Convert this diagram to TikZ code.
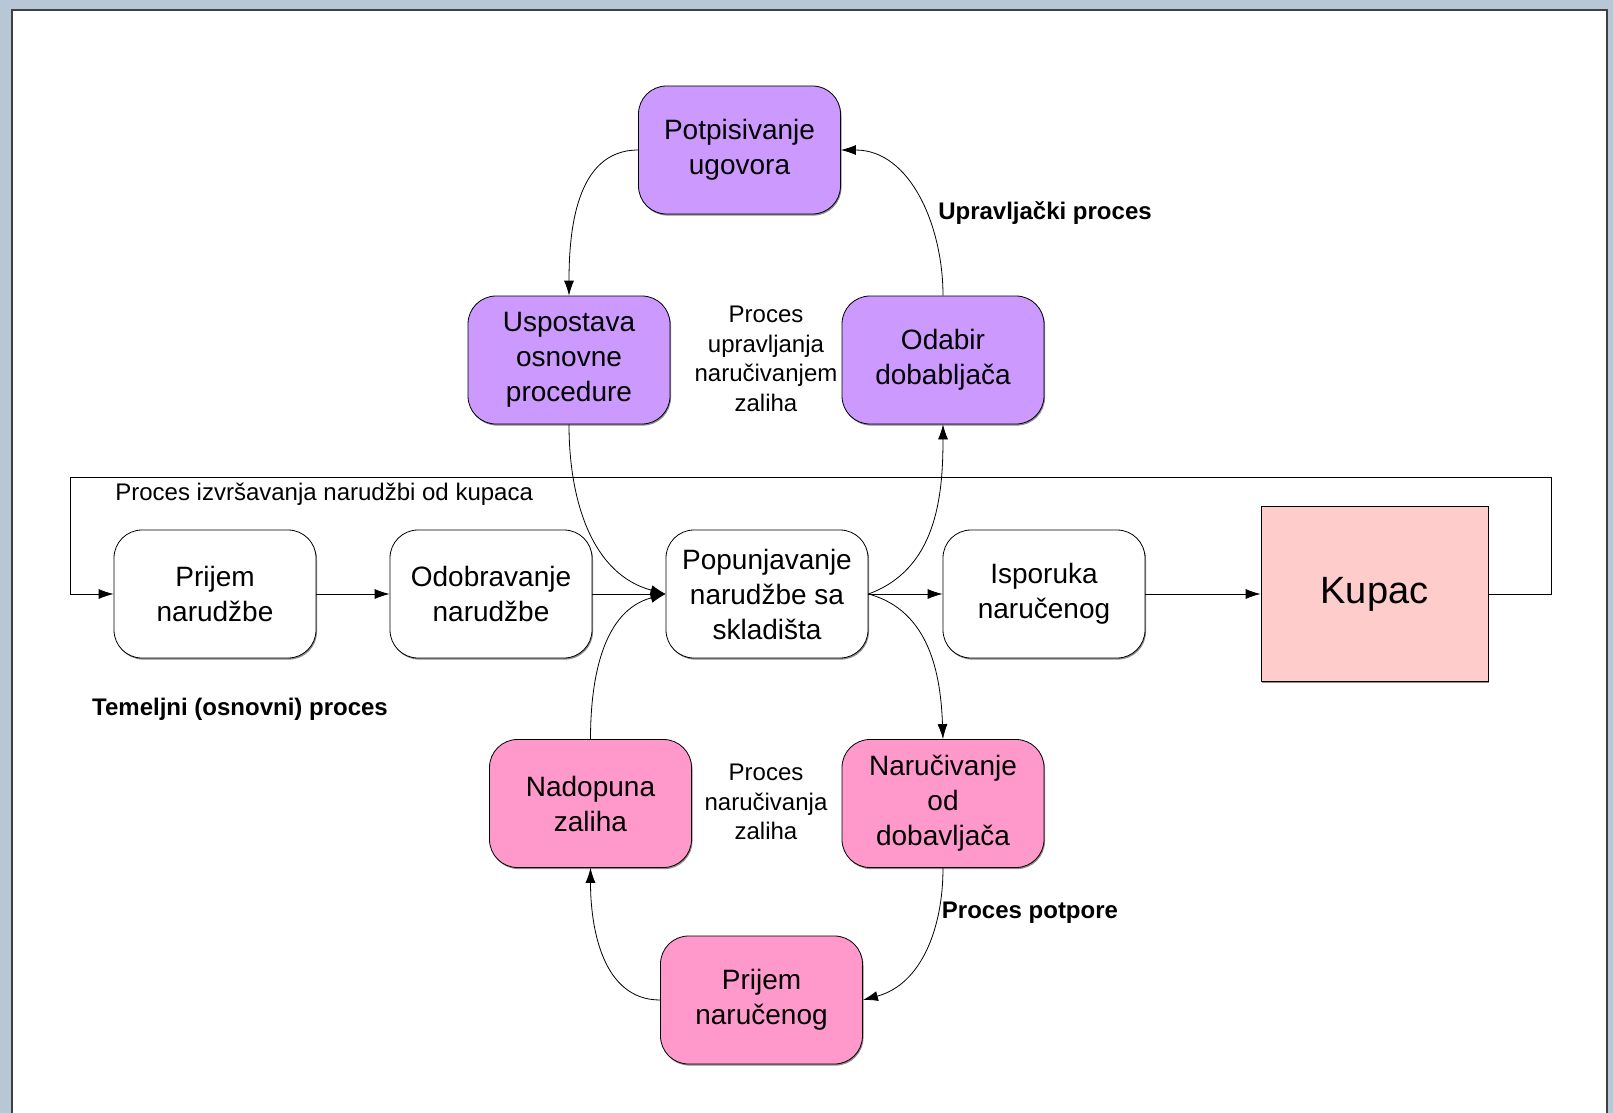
\documentclass[tikz,border=0pt]{standalone}
\usepackage{fontspec}
\setmainfont{Liberation Sans}
\usepackage{tikz}
\usetikzlibrary{arrows.meta,shadows}

\definecolor{ljubicasta}{RGB}{204,153,255}
\definecolor{ruzicasta}{RGB}{255,153,204}
\definecolor{kupacboja}{RGB}{255,204,204}
\definecolor{okvir}{RGB}{184,199,214}

\begin{document}
\begin{tikzpicture}[x=0.5pt,y=0.5pt]

        \useasboundingbox (0,0) rectangle (1613,-1113);
        \fill[okvir] (0,0) rectangle (1613,-1113);
        \filldraw[fill=white,draw=black!75,line width=0.8pt] (12,-10) rectangle (1607,-1125);

        \begin{scope}[every node/.style={draw, fill=white, rounded corners=14pt, align=center,
            minimum width=101pt, minimum height=64pt, font=\fontsize{14}{17.5}\selectfont,
            drop shadow={shadow xshift=0.5pt, shadow yshift=-0.8pt, fill=black!45, opacity=1}}]
          \node (1)  at (215,-594)    {Prijem\\narudžbe};
          \node (2)  at (491,-594)    {Odobravanje\\narudžbe};
          \node (3)  at (767,-594)    {Popunjavanje\\narudžbe sa\\skladišta};
          \node (4)  at (1044,-594)   {Isporuka\\naručenog};
          \node[sharp corners, fill=kupacboja, minimum width=113.5pt, minimum height=87.5pt,
                font=\fontsize{19}{23}\selectfont] (5) at (1374.5,-594) {Kupac};
          \node[fill=ljubicasta] (6)  at (739.5,-150) {Potpisivanje\\ugovora};
          \node[fill=ljubicasta] (7)  at (569,-360)   {Uspostava\\osnovne\\procedure};
          \node[fill=ljubicasta] (8)  at (943,-360)   {Odabir\\dobabljača};
          \node[fill=ruzicasta] (9)  at (590.5,-803.5) {Nadopuna\\zaliha};
          \node[fill=ruzicasta] (10) at (943,-803.5)   {Naručivanje\\od\\dobavljača};
          \node[fill=ruzicasta] (11) at (761.5,-1000)  {Prijem\\naručenog};
        \end{scope}

        \begin{scope}[every node/.style={inner sep=0pt, align=center, font=\fontsize{12}{14.75}\selectfont}]
          \node (t1) at (766,-359) {Proces\\upravljanja\\naručivanjem\\zaliha};
          \node (t2) at (766,-802) {Proces\\naručivanja\\zaliha};
          \node[anchor=west] (t3) at (115,-494) {Proces izvršavanja narudžbi od kupaca};
          \node[font=\fontsize{12}{14.75}\selectfont\bfseries] (t4) at (1045,-213) {Upravljački proces};
          \node[font=\fontsize{12}{14.75}\selectfont\bfseries] (t5) at (240,-709)  {Temeljni (osnovni) proces};
          \node[font=\fontsize{12}{14.75}\selectfont\bfseries] (t6) at (1030,-913) {Proces potpore};
        \end{scope}

        \coordinate (dR) at (1551,-477);
        \coordinate (dL) at (70,-477);

        \begin{scope}[every edge/.style={draw, -{Latex[length=7.5pt,width=5pt]}}]
          \path (1)  edge (2);
          \path (2)  edge (3);
          \path (3)  edge (4);
          \path (4)  edge (5);
          \path (6.west)  edge[out=180, in=90]  (7.north);
          \path (8.north) edge[out=90, in=0]    (6.east);
          \path (7.south) edge[out=-90, in=165] (3.west);
          \path (9.north) edge[out=90, in=195]  (3.west);
          \path (3.east)  edge[out=20, in=-90]  (8.south);
          \path (3.east)  edge[out=-15, in=92]  (10.north);
          \path (10.south) edge[out=-90, in=15] (11.east);
          \path (11.west) edge[out=180, in=-90] (9.south);
        \end{scope}

        \draw[-{Latex[length=7.5pt,width=5pt]}] (5.east) -| (dR) -- (dL) |- (1.west);

      \end{tikzpicture}
\end{document}
